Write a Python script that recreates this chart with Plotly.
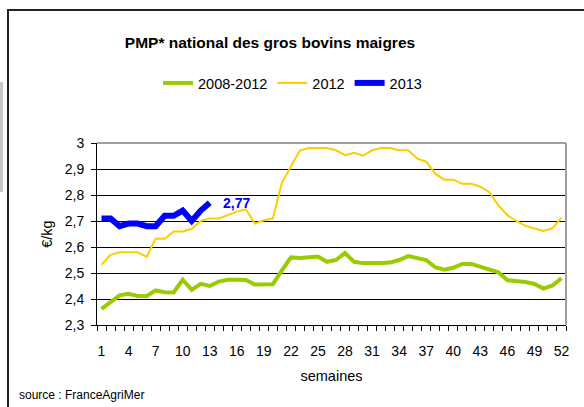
import plotly.graph_objects as go

weeks = list(range(1, 53))

avg_2008_2012 = [2.362, 2.39, 2.414, 2.42, 2.412, 2.412, 2.433, 2.426, 2.425, 2.474,
                 2.435, 2.458, 2.45, 2.467, 2.474, 2.474, 2.473, 2.456, 2.457, 2.457,
                 2.51, 2.56, 2.558, 2.56, 2.563, 2.543, 2.55, 2.577, 2.543, 2.538,
                 2.537, 2.538, 2.54, 2.55, 2.565, 2.558, 2.55, 2.522, 2.513, 2.52,
                 2.535, 2.535, 2.525, 2.515, 2.503, 2.472, 2.47, 2.465, 2.458, 2.44,
                 2.452, 2.48]

y2012 = [2.532, 2.57, 2.58, 2.58, 2.58, 2.562, 2.632, 2.632, 2.66, 2.66,
         2.67, 2.70, 2.71, 2.71, 2.724, 2.736, 2.745, 2.69, 2.703, 2.71,
         2.847, 2.91, 2.972, 2.981, 2.981, 2.981, 2.972, 2.953, 2.962, 2.951,
         2.972, 2.981, 2.981, 2.972, 2.972, 2.94, 2.928, 2.882, 2.859, 2.859,
         2.843, 2.843, 2.832, 2.811, 2.76, 2.722, 2.70, 2.681, 2.671, 2.662,
         2.672, 2.713]

y2013 = [2.71, 2.71, 2.68, 2.69, 2.69, 2.68, 2.68, 2.72, 2.72, 2.74, 2.70, 2.74, 2.77]

xtick_vals = list(range(1, 53, 3))
ytick_vals = [2.3, 2.4, 2.5, 2.6, 2.7, 2.8, 2.9, 3.0]
ytick_text = ["2,3", "2,4", "2,5", "2,6", "2,7", "2,8", "2,9", "3"]

W, H = 584, 407
L, R, T, B = 97, 18, 143, 82
PW, PH = W - L - R, H - T - B
FONT = "Liberation Sans, Arial, sans-serif"


def px_x(p):
    return (p - L) / PW


def px_y(p):
    return (H - B - p) / PH


fig = go.Figure()
fig.add_trace(go.Scatter(x=weeks, y=avg_2008_2012, mode="lines", name="2008-2012",
                         line=dict(color="#99CC00", width=4)))
fig.add_trace(go.Scatter(x=weeks, y=y2012, mode="lines", name="2012",
                         line=dict(color="#FFCC00", width=2)))
fig.add_trace(go.Scatter(x=weeks[:len(y2013)], y=y2013, mode="lines", name="2013",
                         line=dict(color="#0000FF", width=6)))

fig.update_layout(
    width=W, height=H,
    margin=dict(l=L, r=R, t=T, b=B),
    paper_bgcolor="white", plot_bgcolor="white",
    font=dict(family=FONT, size=14, color="black"),
    title=dict(text="<b>PMP* national des gros bovins maigres</b>",
               xref="container", x=270 / W, xanchor="center",
               yref="container", y=1 - 43 / H, yanchor="middle",
               font=dict(size=15.5, family=FONT, color="black")),
    legend=dict(orientation="h", xref="container", x=158 / W, xanchor="left",
                yref="container", y=1 - 83 / H, yanchor="middle",
                font=dict(size=14.5, family=FONT), bgcolor="rgba(0,0,0,0)",
                tracegroupgap=0, itemwidth=30),
    showlegend=True,
)

fig.update_xaxes(
    range=[0.5, 52.5], tickmode="array", tickvals=xtick_vals,
    ticks="outside", ticklen=13, tickcolor="rgba(0,0,0,0)",
    showgrid=False, zeroline=False,
    showline=True, linecolor="black", linewidth=1,
    minor=dict(tickmode="linear", tick0=0.5, dtick=1, ticks="outside",
               ticklen=5, tickcolor="black", tickwidth=1, showgrid=False),
    title=dict(text="semaines", standoff=13, font=dict(size=14.5)),
    tickfont=dict(size=14),
)
fig.update_yaxes(
    range=[2.3, 3.0], tickmode="array", tickvals=ytick_vals, ticktext=ytick_text,
    ticks="outside", ticklen=5, tickcolor="black", ticklabelstandoff=4,
    showgrid=True, gridcolor="black", gridwidth=1, zeroline=False,
    showline=True, linecolor="black", linewidth=1,
    title=dict(text="€/kg", standoff=8, font=dict(size=14.5)),
    tickfont=dict(size=14),
)

# plot-area border (top and right, grey)
fig.add_shape(type="line", xref="paper", yref="paper", x0=0, x1=1, y0=1, y1=1,
              line=dict(color="#A0A0A0", width=2), layer="above")
fig.add_shape(type="line", xref="paper", yref="paper", x0=1, x1=1, y0=0, y1=1,
              line=dict(color="#A0A0A0", width=2), layer="above")
# outer chart frame
fig.add_shape(type="rect", xref="paper", yref="paper",
              x0=px_x(8), x1=px_x(W + 20), y0=px_y(H + 20), y1=px_y(10),
              line=dict(color="#222222", width=2), fillcolor="rgba(0,0,0,0)")
# grey strip at far left
fig.add_shape(type="rect", xref="paper", yref="paper",
              x0=px_x(0), x1=px_x(3), y0=px_y(192), y1=px_y(82),
              line=dict(width=0), fillcolor="#C8C8C8")

fig.add_annotation(x=weeks[len(y2013) - 1], y=y2013[-1],
                   text="<b>" + f"{y2013[-1]:.2f}".replace(".", ",") + "</b>",
                   xanchor="left", yanchor="middle", xshift=11, showarrow=False,
                   font=dict(size=14, color="#0000FF", family=FONT))
fig.add_annotation(xref="paper", yref="paper", x=px_x(17), y=px_y(395),
                   text="source : FranceAgriMer", xanchor="left", yanchor="middle",
                   showarrow=False, font=dict(size=12, color="black", family=FONT))

fig.write_html("out.html",
               config={"displayModeBar": False},
               post_script="document.body.style.margin='0px';"
                           "document.body.style.overflow='hidden';")
